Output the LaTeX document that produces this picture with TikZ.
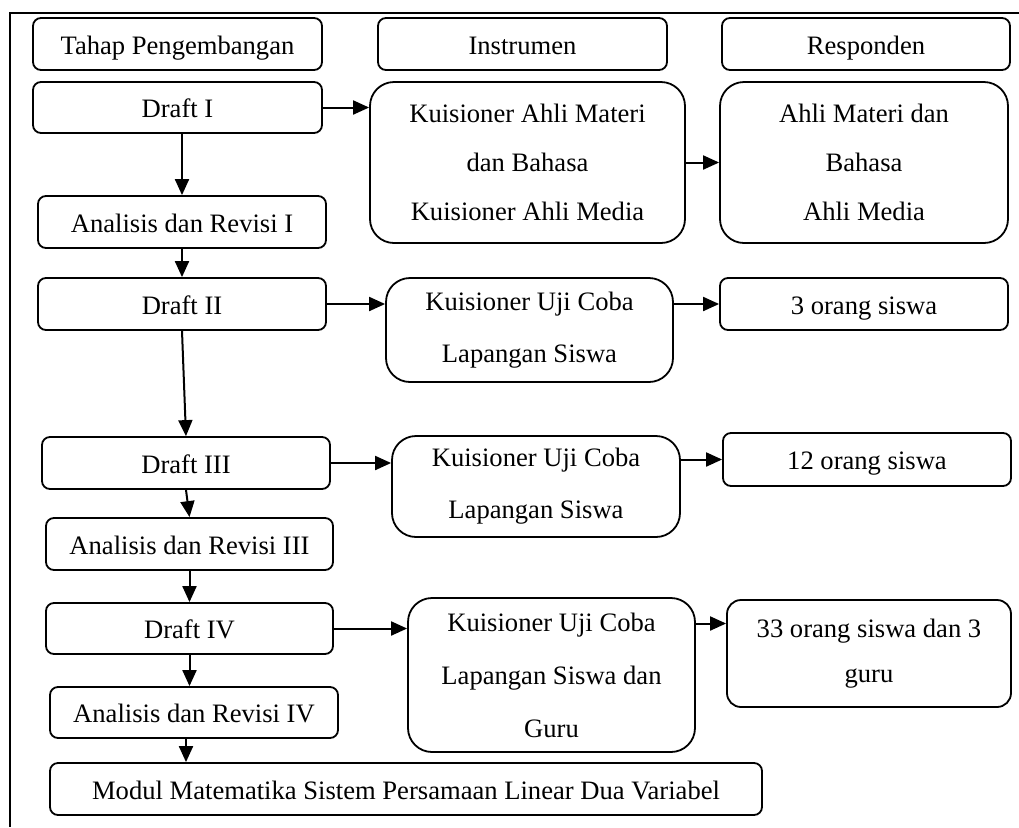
\documentclass[tikz,border=0pt]{standalone}
\usepackage{fontspec}
\setmainfont{Liberation Serif}
\usetikzlibrary{arrows.meta}
\tikzset{
  boxbase/.style={draw, line width=0.9pt, align=center, inner sep=0pt,
    font=\fontsize{13.3pt}{26pt}\selectfont},
  box/.style={boxbase, rounded corners=4pt, text height=10.5pt, text depth=0.5pt},
  bigbox/.style={boxbase, rounded corners=12pt},
  arr/.style={-{Triangle[length=8pt, width=7pt]}, line width=1pt}
}
\begin{document}
\begin{tikzpicture}[x=0.5pt, y=-0.5pt]
  \useasboundingbox (0,0) rectangle (1019,827);
  % frame
  \draw[line width=1pt] (1019,13) -- (10,13) -- (10,827);
  % column headings
  \node[box, minimum width=144.5pt, minimum height=26pt] (tahap) at (177.5,44) {Tahap Pengembangan};
  \node[box, minimum width=144.5pt, minimum height=26pt] (instr) at (522.5,44) {Instrumen};
  \node[box, minimum width=144pt, minimum height=26pt] (resp) at (866,44) {Responden};
  % development steps
  \node[box, minimum width=144.5pt, minimum height=25.5pt] (draftI) at (177.5,107.5) {Draft I};
  \node[box, minimum width=144pt, minimum height=26pt] (anaI) at (182,222) {Analisis dan Revisi I};
  \node[box, minimum width=144pt, minimum height=26pt] (draftII) at (182,304) {Draft II};
  \node[box, minimum width=144pt, minimum height=26pt] (draftIII) at (186,463) {Draft III};
  \node[box, minimum width=143.5pt, minimum height=26pt] (anaIII) at (189.5,544) {Analisis dan Revisi III};
  \node[box, minimum width=143.5pt, minimum height=25.5pt] (draftIV) at (189.5,628.5) {Draft IV};
  \node[box, minimum width=144pt, minimum height=25.5pt] (anaIV) at (194,712.5) {Analisis dan Revisi IV};
  \node[box, minimum width=356pt, minimum height=26pt] (modul) at (406,789)
    {Modul Matematika Sistem Persamaan Linear Dua Variabel};
  % instruments
  \node[bigbox, minimum width=157.5pt, minimum height=80.5pt, font=\fontsize{13.3pt}{24.5pt}\selectfont]
    (kuisA) at (527.5,162.5) {Kuisioner Ahli Materi\\dan Bahasa\\Kuisioner Ahli Media};
  \node[bigbox, minimum width=143.5pt, minimum height=52pt] (kuisB) at (529.5,330)
    {Kuisioner Uji Coba\\Lapangan Siswa};
  \node[bigbox, minimum width=144pt, minimum height=50.5pt] (kuisC) at (536,486.5)
    {Kuisioner Uji Coba\\Lapangan Siswa};
  \node[bigbox, minimum width=143.5pt, minimum height=77pt, font=\fontsize{13.3pt}{26.5pt}\selectfont]
    (kuisD) at (551.5,675) {Kuisioner Uji Coba\\Lapangan Siswa dan\\Guru};
  % respondents
  \node[bigbox, minimum width=144pt, minimum height=80.5pt, font=\fontsize{13.3pt}{24.5pt}\selectfont]
    (ahli) at (864,162.5) {Ahli Materi dan\\Bahasa\\Ahli Media};
  \node[box, minimum width=144pt, minimum height=26pt] (siswa3) at (864,304) {3 orang siswa};
  \node[box, minimum width=144pt, minimum height=26.5pt] (siswa12) at (867,459.5) {12 orang siswa};
  \node[bigbox, rounded corners=7pt, minimum width=142pt, minimum height=53.5pt,
    font=\fontsize{13.3pt}{22.5pt}\selectfont] (siswa33) at (869,653.5) {33 orang siswa dan 3\\guru};
  % vertical flow
  \draw[arr] (anaI.north |- draftI.south) -- (anaI.north);
  \draw[arr] (anaI.south) -- (draftII.north);
  \draw[arr] (draftII.south) -- (draftIII.north);
  \draw[arr] (draftIII.south) -- (anaIII.north);
  \draw[arr] (anaIII.south) -- (draftIV.north);
  \draw[arr] (draftIV.south) -- (draftIV.south |- anaIV.north);
  \draw[arr] ([xshift=-4pt]anaIV.south) -- ([xshift=-4pt]anaIV.south |- modul.north);
  % steps to instruments
  \draw[arr] (draftI.east) -- (kuisA.west |- draftI.east);
  \draw[arr] (draftII.east) -- (kuisB.west |- draftII.east);
  \draw[arr] (draftIII.east) -- (kuisC.west |- draftIII.east);
  \draw[arr] (draftIV.east) -- (kuisD.west |- draftIV.east);
  % instruments to respondents
  \draw[arr] (kuisA.east) -- (ahli.west);
  \draw[arr] (kuisB.east |- siswa3.west) -- (siswa3.west);
  \draw[arr] (kuisC.east |- siswa12.west) -- (siswa12.west);
  \coordinate (t4) at ([yshift=15pt]siswa33.west);
  \draw[arr] (kuisD.east |- t4) -- (t4);
\end{tikzpicture}
\end{document}
